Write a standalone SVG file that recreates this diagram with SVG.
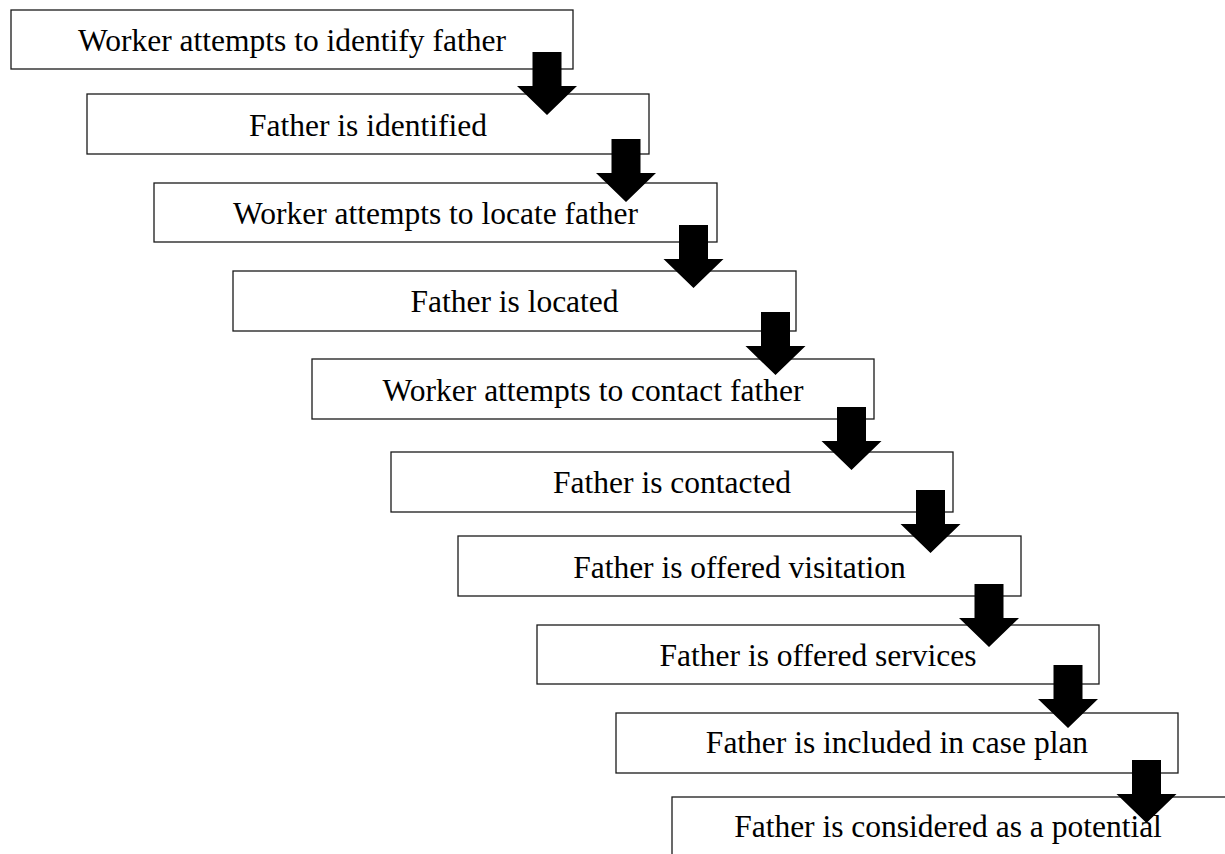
<svg xmlns="http://www.w3.org/2000/svg" xmlns:xlink="http://www.w3.org/1999/xlink" width="1225" height="854" viewBox="0 0 1225 854">
  <style>
    .box { fill: #ffffff; stroke: #1a1a1a; stroke-width: 1.3; }
    .label { font-size: 31.5px; fill: #000000; text-anchor: middle; }
    .arrow { fill: #000000; }
  </style>
  <defs>
    <!-- block arrow, origin at the tip -->
    <polygon id="blockArrow" points="-14.5,-63 14.5,-63 14.5,-29 30,-29 0,0 -30,-29 -14.5,-29"/>
  </defs>
  <rect width="1225" height="854" fill="#ffffff"/>

  <g font-family="'Liberation Serif', 'Times New Roman', Times, serif">
  <g id="step1">
    <rect class="box" x="11" y="10" width="562" height="59"/>
    <text class="label" x="292" y="51">Worker attempts to identify father</text>
  </g>
  <g id="step2">
    <rect class="box" x="87" y="94" width="562" height="60"/>
    <text class="label" x="368" y="136">Father is identified</text>
  </g>
  <g id="step3">
    <rect class="box" x="154" y="183" width="563" height="59"/>
    <text class="label" x="435.5" y="224">Worker attempts to locate father</text>
  </g>
  <g id="step4">
    <rect class="box" x="233" y="271" width="563" height="60"/>
    <text class="label" x="514.5" y="312">Father is located</text>
  </g>
  <g id="step5">
    <rect class="box" x="312" y="359" width="562" height="60"/>
    <text class="label" x="593" y="401">Worker attempts to contact father</text>
  </g>
  <g id="step6">
    <rect class="box" x="391" y="452" width="562" height="60"/>
    <text class="label" x="672" y="493">Father is contacted</text>
  </g>
  <g id="step7">
    <rect class="box" x="458" y="536" width="563" height="60"/>
    <text class="label" x="739.5" y="578">Father is offered visitation</text>
  </g>
  <g id="step8">
    <rect class="box" x="537" y="625" width="562" height="59"/>
    <text class="label" x="818" y="666">Father is offered services</text>
  </g>
  <g id="step9">
    <rect class="box" x="616" y="713" width="562" height="60"/>
    <text class="label" x="897" y="753">Father is included in case plan</text>
  </g>
  <g id="step10">
    <rect class="box" x="672" y="797" width="562" height="60"/>
    <text class="label" x="948" y="837">Father is considered as a potential</text>
  </g>
  </g>

  <g id="connectors" class="arrow">
    <use xlink:href="#blockArrow" transform="translate(547,115)"/>
    <use xlink:href="#blockArrow" transform="translate(626,202)"/>
    <use xlink:href="#blockArrow" transform="translate(693.5,288)"/>
    <use xlink:href="#blockArrow" transform="translate(775.5,375)"/>
    <use xlink:href="#blockArrow" transform="translate(851.5,470)"/>
    <use xlink:href="#blockArrow" transform="translate(930.5,553)"/>
    <use xlink:href="#blockArrow" transform="translate(989,647)"/>
    <use xlink:href="#blockArrow" transform="translate(1068,728)"/>
    <use xlink:href="#blockArrow" transform="translate(1146.5,823)"/>
  </g>
</svg>
